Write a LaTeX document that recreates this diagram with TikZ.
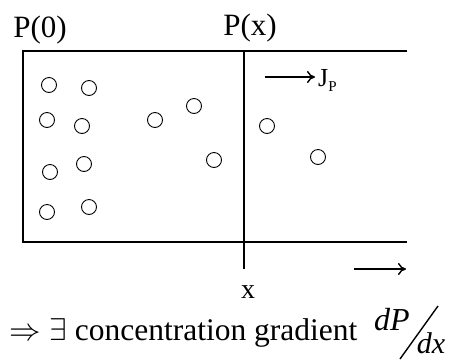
\RequirePackage{fix-cm}
\documentclass[tikz,border=0pt]{standalone}
\usepackage{fontspec}
\setmainfont{Liberation Serif}
\usetikzlibrary{arrows.meta}

\tikzset{
  particle/.style={draw, circle, line width=0.9pt, minimum size=15pt, inner sep=0pt},
  wall/.style={line width=1.1pt},
  flow/.style={line width=1.4pt, -{To[length=8pt,width=12pt]}},
  lbl/.style={inner sep=0pt, anchor=base, font=\fontsize{31}{33}\selectfont},
}

\begin{document}
\begin{tikzpicture}[x=1pt,y=-1pt]
  \useasboundingbox (0,0) rectangle (450,360);

  % the channel and the plane at x
  \coordinate (tl) at (23,51);
  \coordinate (bl) at (23,242);
  \coordinate (tr) at (407,51);
  \coordinate (br) at (407,242);
  \coordinate (xtop) at (244,51);
  \coordinate (xbot) at (244,269);
  \draw[wall] (tr) -- (tl) -- (bl) -- (br);
  \draw[wall] (xtop) -- (xbot);

  % particles
  \foreach \px/\py [count=\i] in
    {
        49/85, 89/88, 47/120, 82/126, 50/172, 84/164, 47/212, 89/207,
        155/120, 194/106, 214/160, 267/126, 318/157
    }
    {
        \node[particle] (p\i) at (\px,\py) {};
    }

  % labels
  \node[lbl] (p0) at (40,37) {P(0)};
  \node[lbl] (px) at (250,35) {P(x)};
  \node[lbl, font=\fontsize{28}{30}\selectfont] (xl) at (248,298) {x};

  % flux
  \coordinate (js) at (265,77);
  \coordinate (je) at (315,77);
  \draw[flow] (js) -- (je);
  \node[inner sep=0pt, anchor=base west, font=\fontsize{26}{28}\selectfont] (jp) at (318,86) {J\raisebox{-5pt}{\fontsize{15}{16}\selectfont P}};

  \coordinate (as) at (354,269);
  \coordinate (ae) at (406,269);
  \draw[flow] (as) -- (ae);

  % concentration gradient
  \node[lbl, anchor=base west, font=\fontsize{31.5}{33}\selectfont] (grad) at (9,340) {$\Rightarrow\exists$ concentration gradient};
  \node[lbl, font=\fontsize{32}{34}\selectfont\itshape] (dP) at (392,330) {dP};
  \node[lbl, font=\fontsize{30}{32}\selectfont\itshape] (dx) at (431,353) {dx};
  \draw[line width=1.4pt] (400,359) -- (438,306);
\end{tikzpicture}
\end{document}
